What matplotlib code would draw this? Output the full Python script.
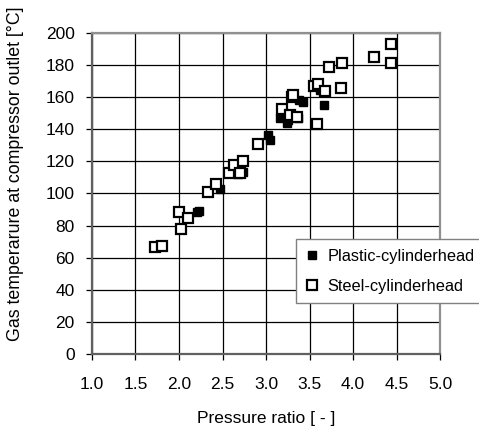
import matplotlib
matplotlib.use("Agg")
import matplotlib.pyplot as plt

plt.rcParams["font.family"] = ["Liberation Sans", "DejaVu Sans"]

# pressure ratio / outlet temperature
plastic_x = [2.21, 2.23, 2.47, 2.68, 2.74, 3.02, 3.05, 3.16, 3.24, 3.25, 3.37, 3.38, 3.42, 3.62, 3.67]
plastic_y = [88.7, 89.0, 102.5, 112.0, 113.6, 136.4, 133.3, 146.8, 143.7, 146.0, 146.8, 158.0, 157.0, 164.5, 155.3]

steel_x = [1.72, 1.80, 2.00, 2.02, 2.10, 2.33, 2.42, 2.57, 2.63, 2.70, 2.73, 2.91,
           3.18, 3.28, 3.30, 3.31, 3.36, 3.55, 3.59, 3.60, 3.68, 3.72, 3.86, 3.87,
           4.24, 4.43, 4.44]
steel_y = [66.5, 67.0, 88.3, 78.0, 84.5, 101.0, 106.0, 113.0, 117.5, 112.6, 120.0, 131.0,
           152.8, 149.0, 160.0, 161.6, 147.5, 167.0, 143.0, 168.0, 164.0, 179.0, 166.0, 181.0,
           185.0, 193.0, 181.0]

x_ticks = [1.0, 1.5, 2.0, 2.5, 3.0, 3.5, 4.0, 4.5, 5.0]
y_ticks = [0, 20, 40, 60, 80, 100, 120, 140, 160, 180, 200]

fig = plt.figure(figsize=(4.79, 4.28), dpi=100)
ax = fig.add_axes([0.192, 0.173, 0.727, 0.750])

ax.plot(plastic_x, plastic_y, linestyle="None", marker="s", markersize=5.5,
        color="black", label="Plastic-cylinderhead", zorder=3)
ax.plot(steel_x, steel_y, linestyle="None", marker="s", markersize=7,
        markerfacecolor="white", markeredgecolor="black", markeredgewidth=1.6,
        label="Steel-cylinderhead", zorder=4)

ax.set_xlim(1.0, 5.0)
ax.set_ylim(0, 200)
ax.set_xticks(x_ticks)
ax.set_xticklabels([f"{v:.1f}" for v in x_ticks])
ax.set_yticks(y_ticks)
ax.grid(True, color="black", linewidth=0.9)
ax.set_axisbelow(True)

for name, s in ax.spines.items():
    s.set_color("#606060" if name in ("left", "bottom") else "#909090")
    s.set_linewidth(1.6)

ax.tick_params(direction="out", length=4.5, width=0.9, color="black", labelsize=12.5)
ax.tick_params(axis="x", pad=12)
ax.tick_params(axis="y", pad=8)

ax.set_xlabel("Pressure ratio [ - ]", fontsize=12.5, labelpad=14)
ax.set_ylabel("Gas temperarure at compressor outlet [°C]", fontsize=12.8)
# label sits above the axes centre, as in the original
ax.yaxis.set_label_coords(-0.195, 0.56)

leg = ax.legend(loc="upper left", bbox_to_anchor=(296 / 479, 1 - 239 / 428),
                bbox_transform=fig.transFigure, frameon=True, fancybox=False,
                fontsize=11.8, handlelength=0.7, handletextpad=0.6,
                borderpad=0.6, labelspacing=0.9, borderaxespad=0)
leg.get_frame().set_edgecolor("#808080")
leg.get_frame().set_linewidth(1.0)
leg.get_frame().set_alpha(1)

fig.savefig("out.png", dpi=100)
